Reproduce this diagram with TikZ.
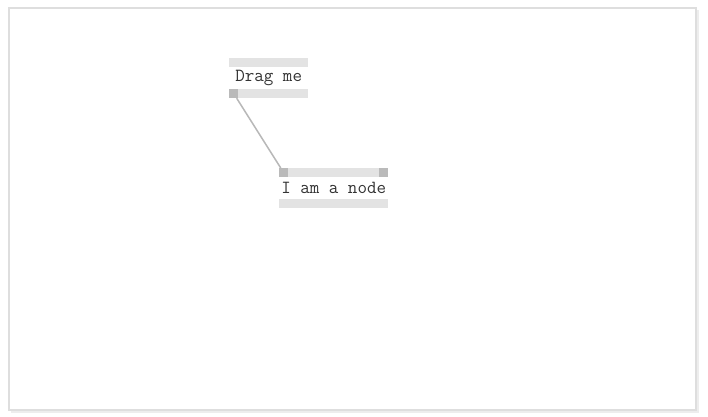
\documentclass[tikz,border=0pt]{standalone}
\usetikzlibrary{positioning}

\begin{document}
\begin{tikzpicture}[x=1pt, y=-1pt,
  card/.style = {draw=black!13, line width=1.5pt, fill=white},
  bar/.style  = {fill=black!11, minimum height=9pt, inner sep=0pt},
  row/.style  = {font=\ttfamily\fontsize{18.5}{18.5}\selectfont, text=black!80,
                 minimum height=21pt, inner sep=0pt},
  port/.style = {fill=black!27, minimum width=9pt, minimum height=9pt,
                 inner sep=0pt, anchor=north west},
  wire/.style = {draw=black!28, line width=1.5pt},
]
\useasboundingbox (0,0) rectangle (708,416);

% --- card ----------------------------------------------------------------
\fill[black!7] (11,10) rectangle (699,413);
\draw[card] (9,8) rectangle (696,410);

% --- nodes ---------------------------------------------------------------
\node[bar, minimum width=79pt, anchor=north west] (dragtop) at (229,58) {};
\node[row, minimum width=79pt, below=0pt of dragtop] (dragtext) {Drag me};
\node[bar, minimum width=79pt, below=0pt of dragtext] (dragbot) {};
\node[port] (dragout) at (dragbot.north west) {};

\node[bar, minimum width=109pt, anchor=north west] (nodetop) at (279,168) {};
\node[row, minimum width=109pt, below=0pt of nodetop] (nodetext) {I am a node};
\node[bar, minimum width=109pt, below=0pt of nodetext] (nodebot) {};
\node[port] (nodein) at (nodetop.north west) {};
\node[port, anchor=north east] (nodeout) at (nodetop.north east) {};

% --- connector -----------------------------------------------------------
\draw[wire] (dragout) -- (nodein);

\end{tikzpicture}
\end{document}
